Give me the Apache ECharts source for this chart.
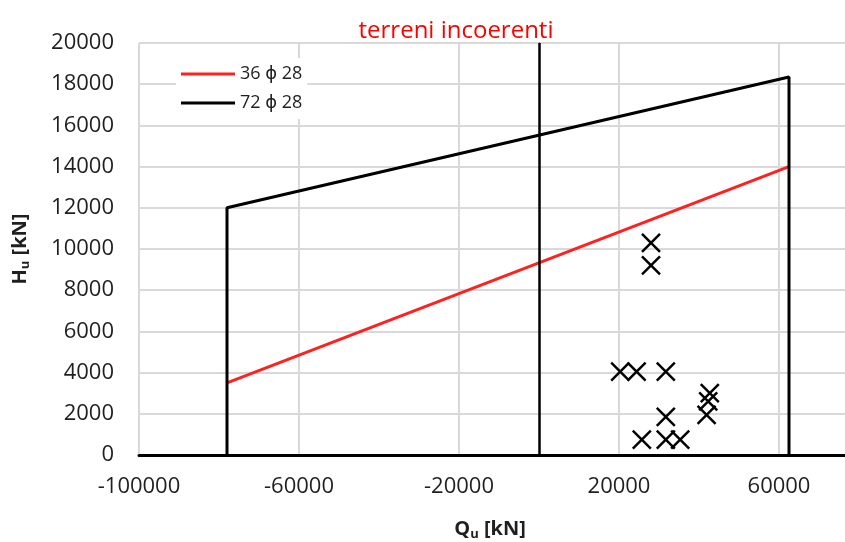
<!DOCTYPE html>
<html lang="it">
<head>
    <meta charset="UTF-8">
    <title>terreni incoerenti</title>
    <script src="https://cdn.jsdelivr.net/npm/echarts@6/dist/echarts.min.js"></script>
    <style>
        html, body { margin: 0; padding: 0; background: #fff; }
        #chart { width: 845px; height: 542px; }
    </style>
</head>
<body>
<div id="chart"></div>
<script>
    // dominio di interazione 72 phi 28 (Qu, Hu)
    const qDom72 = [-78000, -78000, 62500, 62500];
    const hDom72 = [0, 12000, 18350, 0];
    // retta 36 phi 28
    const qDom36 = [-78000, 62500];
    const hDom36 = [3500, 14000];
    // sollecitazioni di progetto
    const qSoll = [28000, 28000, 20300, 24400, 31700, 31700, 25700, 31700, 35300, 42700, 42300, 41900];
    const hSoll = [10300, 9200, 4050, 4050, 4050, 1850, 750, 750, 750, 3000, 2600, 1950];

    const seriesNames = ['36 ϕ 28', '72 ϕ 28'];

    const zip = (xs, ys) => xs.map((x, i) => [x, ys[i]]);

    const font = '"Open Sans", "DejaVu Sans", sans-serif';
    const labelColor = '#1f1f1f';
    const plain = v => String(v);

    let chart = echarts.init(document.getElementById('chart'));
    let option = {
        animation: false,
        title: {
            text: 'terreni incoerenti',
            left: 451,
            textAlign: 'center',
            top: 14,
            textStyle: { color: '#ff0000', fontSize: 24, fontWeight: 'normal', fontFamily: font }
        },
        legend: {
            data: seriesNames,
            orient: 'vertical',
            left: 176,
            top: 58,
            icon: 'rect',
            itemWidth: 54,
            itemHeight: 3,
            itemGap: 7,
            backgroundColor: '#fff',
            textStyle: { fontSize: 18, lineHeight: 22, color: labelColor, fontFamily: font }
        },
        grid: {
            left: 139,
            top: 43,
            width: 800,
            height: 412,
            outerBoundsMode: 'none',
            containLabel: false,
            show: true,
            borderColor: '#404040',
            borderWidth: 1
        },
        xAxis: {
            type: 'value',
            min: -100000,
            max: 100000,
            interval: 40000,
            name: '{b|Q}{s|u}{b| [kN]}',
            nameLocation: 'middle',
            nameGap: 63,
            nameTextStyle: {
                padding: [0, 98, 0, 0],
                rich: {
                    b: { fontSize: 20, fontWeight: 'bold', color: labelColor, fontFamily: font },
                    s: { fontSize: 13, fontWeight: 'bold', color: labelColor, fontFamily: font, verticalAlign: 'bottom', padding: [10, 0, 0, 0] }
                }
            },
            axisLine: { show: true, onZero: false, lineStyle: { color: '#000', width: 3 } },
            axisTick: { show: false },
            axisLabel: { fontSize: 22, color: labelColor, margin: 21, fontFamily: font, formatter: plain },
            splitLine: { show: true, lineStyle: { color: '#d9d9d9', width: 2 } }
        },
        yAxis: {
            type: 'value',
            min: 0,
            max: 20000,
            interval: 2000,
            name: '{b|H}{s|u}{b| [kN]}',
            nameLocation: 'middle',
            nameGap: 107,
            nameTextStyle: {
                rich: {
                    b: { fontSize: 20, fontWeight: 'bold', color: labelColor, fontFamily: font },
                    s: { fontSize: 13, fontWeight: 'bold', color: labelColor, fontFamily: font, verticalAlign: 'bottom', padding: [10, 0, 0, 0] }
                }
            },
            axisLine: { show: true, lineStyle: { color: '#404040', width: 1 } },
            axisTick: { show: false },
            axisLabel: { fontSize: 22, color: labelColor, margin: 25, fontFamily: font, formatter: plain },
            splitLine: { show: true, lineStyle: { color: '#d9d9d9', width: 2 } }
        },
        series: [
            {
                name: seriesNames[0],
                type: 'line',
                data: zip(qDom36, hDom36),
                symbol: 'none',
                lineStyle: { color: '#ff2020', width: 3 },
                itemStyle: { color: '#ff2020' },
                z: 3
            },
            {
                name: seriesNames[1],
                type: 'line',
                data: zip(qDom72, hDom72),
                symbol: 'none',
                lineStyle: { color: '#000', width: 3 },
                itemStyle: { color: '#000' },
                z: 3,
                markLine: {
                    silent: true,
                    symbol: 'none',
                    label: { show: false },
                    lineStyle: { color: '#000', width: 2.5, type: 'solid' },
                    data: [{ xAxis: 0 }]
                }
            },
            {
                name: 'sollecitazioni',
                type: 'scatter',
                data: zip(qSoll, hSoll),
                symbol: 'path://M0,0L10,10M10,0L0,10',
                symbolSize: 18,
                itemStyle: { color: 'transparent', borderColor: '#000', borderWidth: 2.5, opacity: 1 },
                z: 4
            }
        ]
    };
    chart.setOption(option);
</script>
</body>
</html>
